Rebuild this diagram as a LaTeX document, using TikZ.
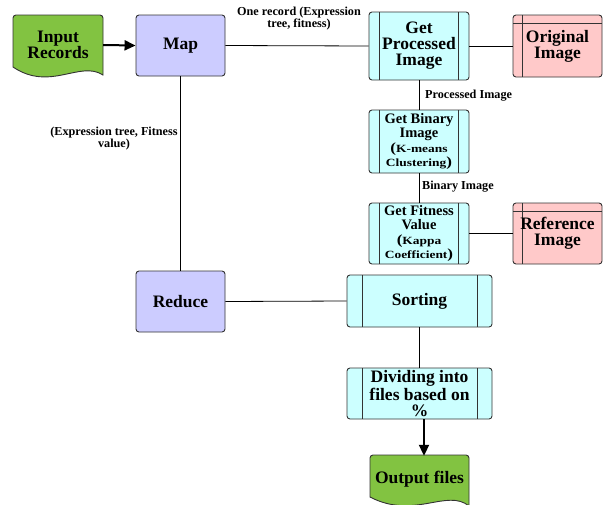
\documentclass[tikz,border=0pt]{standalone}
\usepackage{fontspec}
\setmainfont{Liberation Serif}[BoldFont={Liberation Serif Bold}]
\usetikzlibrary{arrows.meta}
\definecolor{docgreen}{HTML}{82C341}
\definecolor{mapblue}{HTML}{CCCCFF}
\definecolor{proccyan}{HTML}{CCFFFF}
\definecolor{storpink}{HTML}{FFC9C9}
\definecolor{linegray}{HTML}{333333}
\newcommand{\bigtxt}{\rmfamily\bfseries\fontsize{17.5}{16}\selectfont}
\newcommand{\midtxt}{\rmfamily\bfseries\fontsize{14.5}{14.5}\selectfont}
\newcommand{\smalltxt}{\addfontfeature{FakeStretch=1.22}\fontsize{11}{14.5}\selectfont}
\newcommand{\paren}[1]{{\fontsize{14}{14.5}\selectfont #1}}

\begin{document}
\begin{tikzpicture}[x=1pt, y=-1pt,
  box/.style={draw=linegray, line width=0.9pt, rounded corners=3pt,
    align=center, inner sep=0pt, font=\bigtxt},
  mapbox/.style={box, fill=mapblue, minimum width=89pt, minimum height=61pt},
  proc/.style={box, fill=proccyan, path picture={
    \draw[linegray, line width=0.9pt]
      ([xshift=#1]path picture bounding box.north west) --
      ([xshift=#1]path picture bounding box.south west)
      ([xshift=-#1]path picture bounding box.north east) --
      ([xshift=-#1]path picture bounding box.south east);}},
  stor/.style={box, fill=storpink, minimum width=89pt, path picture={
    \draw[linegray, line width=0.9pt]
      ([yshift=-8pt]path picture bounding box.north west) --
      ([yshift=-8pt]path picture bounding box.north east)
      ([xshift=9pt]path picture bounding box.north west) --
      ([xshift=9pt]path picture bounding box.south west);}},
  docshape/.style={draw=linegray, line width=0.9pt, fill=docgreen},
  doctext/.style={align=center, inner sep=0pt, font=\bigtxt},
  link/.style={draw=black, line width=0.8pt},
  flowarrow/.style={draw=black, line width=2pt,
    -{Triangle[length=11pt, width=10pt]}},
  lbl/.style={align=center, inner sep=0pt, font=\rmfamily\bfseries\fontsize{12.2}{12}\selectfont}
]
\useasboundingbox (0,0) rectangle (603,504);

% document shapes (input and output)
\draw[docshape] (13,67) [rounded corners=3pt] -- (13,15) -- (103,15)
  [sharp corners] -- (103,75) .. controls (80,60) and (50,92) .. (13,67) -- cycle;
\draw[docshape] (370,497) [rounded corners=3pt] -- (370,455) -- (469,455)
  [sharp corners] -- (469,506) .. controls (447,488) and (414,520) .. (370,497) -- cycle;

\node[doctext, minimum width=90pt, minimum height=52pt] (inrec) at (58,45) {Input\\Records};
\node[doctext, minimum width=99pt, minimum height=46pt] (out) at (419.5,479) {Output files};

% processing boxes
\node[mapbox] (map) at (180.5,45.5) {Map};
\node[mapbox] (reduce) at (180.5,301.5) {Reduce};
\node[proc=10.5pt, minimum width=100pt, minimum height=68pt] (gpi) at (419,46)
  {Get\\Processed\\Image};
\node[proc=10.5pt, minimum width=100pt, minimum height=63pt, font=\midtxt] (gbi) at (419,141.5)
  {Get Binary\\Image\\{\smalltxt\paren{(}K-means}\\{\smalltxt Clustering\paren{)}}};
\node[proc=10.5pt, minimum width=100pt, minimum height=61pt, font=\midtxt] (gfv) at (419,233.5)
  {Get Fitness\\Value\\{\smalltxt\paren{(}Kappa}\\{\smalltxt Coefficient\paren{)}}};
\node[proc=15pt, minimum width=145pt, minimum height=52pt] (sort) at (419.5,301) {Sorting};
\node[proc=15pt, minimum width=145pt, minimum height=51pt] (divide) at (419.5,393.5)
  {Dividing into\\files based on\\\%};

% data stores
\node[stor, minimum height=62pt] (orig) at (557.5,46) {Original\\Image};
\node[stor, minimum height=61pt] (ref) at (557.5,233.5) {Reference\\Image};

% connectors
\draw[flowarrow] (inrec.east) -- (map.west);
\draw[link] (map.east) -- (gpi.west);
\draw[link] (gpi.east) -- (orig.west);
\draw[link] (gpi.south) -- (gbi.north);
\draw[link] (gbi.south) -- (gfv.north);
\draw[link] (gfv.east) -- (ref.west);
\draw[link] (map.south) -- (reduce.north);
\draw[link] (reduce.east) -- (sort.west);
\draw[link] (sort.south) -- (divide.north);
\draw[flowarrow] ([xshift=4.5pt]divide.south) -- ([xshift=4.5pt]out.north);

% connector labels
\node[lbl] (lblone) at (299,19) {One record (Expression\\tree, fitness)};
\node[lbl, anchor=west] (lblproc) at (425,96) {Processed Image};
\node[lbl, anchor=west] (lblbin) at (422,187) {Binary Image};
\node[lbl] (lblexpr) at (114,138.5) {(Expression tree, Fitness\\value)};
\end{tikzpicture}
\end{document}
